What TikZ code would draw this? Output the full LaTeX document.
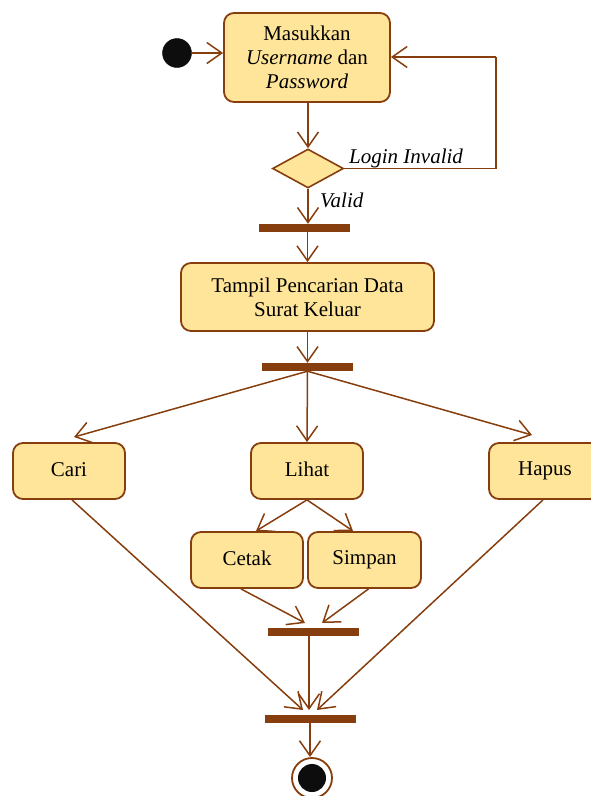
\documentclass[tikz,border=0pt]{standalone}
\usepackage{fontspec}
\setmainfont{Liberation Serif}
\usetikzlibrary{arrows.meta,shapes.geometric}
\definecolor{umlbrown}{RGB}{135,62,14}
\definecolor{umlfill}{RGB}{255,229,153}
\begin{document}
\begin{tikzpicture}[x=1pt,y=-1pt,
  act/.style={draw=umlbrown,line width=1.8pt,fill=umlfill,rounded corners=10pt,
    align=center,inner sep=0pt,font=\fontsize{21}{24}\selectfont},
  syncbar/.style={fill=umlbrown,draw=none,minimum width=91pt,minimum height=8pt,inner sep=0pt},
  flow/.style={draw=umlbrown,line width=1.5pt,-{Straight Barb[length=15pt,width=21pt,line width=1.5pt]}},
  plain/.style={draw=umlbrown,line width=1.5pt},
  lbl/.style={font=\fontsize{21}{24}\selectfont\itshape,inner sep=0pt}]
\useasboundingbox (0,0) rectangle (590,796);
% start
\node[circle,fill=black!95,draw=black,minimum size=29pt,inner sep=0pt] (start) at (177,53) {};
\node[act,minimum width=166pt,minimum height=89pt] (masuk) at (307,57.5) {Masukkan\\\textit{Username} dan\\\textit{Password}};
\node[diamond,draw=umlbrown,line width=1.6pt,fill=umlfill,minimum width=71pt,minimum height=39pt,inner sep=0pt] (dec) at (308,168.5) {};
\node[syncbar] (b1) at (304.5,228) {};
\node[act,minimum width=253pt,minimum height=68pt] (tampil) at (307.5,297) {Tampil Pencarian Data\\Surat Keluar};
\node[syncbar] (b2) at (307.5,367) {};
\node[act,minimum width=112pt,minimum height=56pt] (cari) at (69,471) {\raisebox{3pt}{Cari}};
\node[act,minimum width=112pt,minimum height=56pt] (lihat) at (307,471) {\raisebox{3pt}{Lihat}};
\node[act,minimum width=112pt,minimum height=56pt] (hapus) at (545,471) {\raisebox{3pt}{Hapus}};
\node[act,minimum width=112pt,minimum height=56pt] (cetak) at (247,560) {\raisebox{3pt}{Cetak}};
\node[act,minimum width=113pt,minimum height=56pt] (simpan) at (364.5,560) {\raisebox{3pt}{Simpan}};
\node[syncbar] (b3) at (313.5,632) {};
\node[syncbar] (b4) at (310.5,719) {};
\node[circle,draw=umlbrown,line width=1.8pt,fill=white,minimum size=40pt,inner sep=0pt] (endo) at (312,778) {};
\node[circle,fill=black!95,minimum size=28pt,inner sep=0pt] (endi) at (312,778) {};
% coordinates
\coordinate (loopA) at (496,168.5);
\coordinate (loopB) at (496,57);
\coordinate (tcari) at (74,437);
\coordinate (thapus) at (532,435);
\coordinate (tcetak) at (256,531);
\coordinate (tsimpan) at (353,531);
\coordinate (tb3a) at (305,623);
\coordinate (tb3b) at (322,623);
\coordinate (tb4a) at (303,710);
\coordinate (tb4b) at (309,710);
\coordinate (tb4c) at (317,710);
\coordinate (tend) at (310,757);
% flows
\draw[flow] (start.east) -- (masuk.west |- start.east);
\draw[flow] (masuk.south -| dec.north) -- (dec.north);
\draw[plain] (dec.east) -- (loopA) -- (loopB);
\draw[flow] (loopB) -- (masuk.east |- loopB);
\draw[flow] (dec.south) -- (dec.south |- b1.north);
\draw[flow] (b1.south -| tampil.north) -- (tampil.north);
\draw[flow] (tampil.south) -- (tampil.south |- b2.north);
\draw[flow] (b2.south) -- (tcari);
\draw[flow] (b2.south) -- (lihat.north);
\draw[flow] (b2.south) -- (thapus);
\draw[flow] (lihat.south) -- (tcetak);
\draw[flow] (lihat.south) -- (tsimpan);
\draw[flow] ([xshift=-6pt]cetak.south) -- (tb3a);
\draw[flow] ([xshift=4pt]simpan.south) -- (tb3b);
\draw[flow] ([xshift=3pt]cari.south) -- (tb4a);
\draw[flow] (b3.south -| tb4b) -- (tb4b);
\draw[flow] ([xshift=-2pt]hapus.south) -- (tb4c);
\draw[flow] (b4.south -| tend) -- (tend);
% labels
\node[lbl,anchor=west] (linv) at (349,158) {Login Invalid};
\node[lbl,anchor=west] (lval) at (320,200) {Valid};
\end{tikzpicture}
\end{document}
